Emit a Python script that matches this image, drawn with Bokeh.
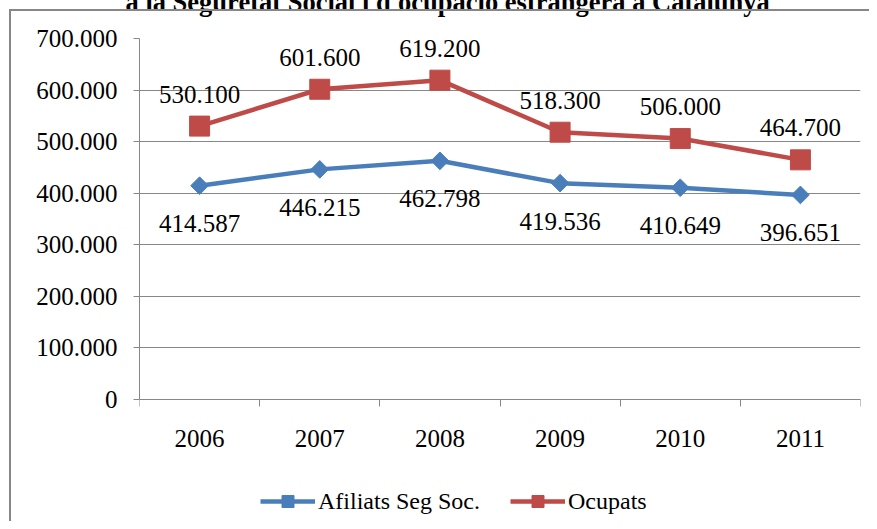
import math
from bokeh.plotting import figure
from bokeh.models import (FixedTicker, Range1d, Legend, LegendItem, ColumnDataSource,
                          InlineStyleSheet, LinearAxis)
from bokeh.core.properties import value
from bokeh.embed import file_html
from bokeh.resources import INLINE

# ---- data ----
years = ["2006", "2007", "2008", "2009", "2010", "2011"]
afiliats = [414587, 446215, 462798, 419536, 410649, 396651]
ocupats = [530100, 601600, 619200, 518300, 506000, 464700]
afiliats_labels = ["414.587", "446.215", "462.798", "419.536", "410.649", "396.651"]
ocupats_labels = ["530.100", "601.600", "619.200", "518.300", "506.000", "464.700"]
y_ticks = [0, 100000, 200000, 300000, 400000, 500000, 600000, 700000]
y_tick_labels = ["0", "100.000", "200.000", "300.000", "400.000", "500.000", "600.000", "700.000"]
series_names = ["Afiliats Seg Soc.", "Ocupats"]
title_text = "a la Seguretat Social i d'ocupació estrangera a Catalunya"

BLUE = "#4a7ebb"
RED = "#be4b48"
GRID = "#878787"
FONT = "Liberation Serif"

SHIFT = 40                      # figure is pulled up so the title is cut at the top
W, H = 869, 521 + SHIFT
ML, MR, MT = 139, 9, 38 + SHIFT
Y_TOP_PX, Y_ZERO_PX, BOTTOM_PX = 38, 399, 521   # plot area in picture pixels
YMAX = 700000
# the frame reaches the bottom of the canvas so the legend can sit inside it;
# extend the y range below 0 by the matching number of pixels
y_min = -(BOTTOM_PX - Y_ZERO_PX) * YMAX / (Y_ZERO_PX - Y_TOP_PX)

xc = [i + 0.5 for i in range(len(years))]
src = ColumnDataSource(dict(x=xc, afiliats=afiliats, ocupats=ocupats,
                            al=afiliats_labels, ol=ocupats_labels))

box_css = InlineStyleSheet(css=(
    ":host::after { content: ''; position: absolute; left: 9px; top: %dpx; "
    "right: 0; bottom: 0; border-left: 2px solid %s; border-top: 2px solid %s; "
    "pointer-events: none; }" % (10 + SHIFT - 1, GRID, GRID)))

p = figure(width=W, height=H, output_backend="svg", toolbar_location=None,
           x_range=Range1d(0, len(years)), y_range=Range1d(y_min, YMAX),
           x_axis_location=None,
           min_border_left=ML, min_border_right=MR, min_border_top=MT,
           min_border_bottom=0, margin=(-SHIFT, 0, 0, 0),
           stylesheets=[box_css])
p.outline_line_color = None
p.background_fill_color = "white"
p.border_fill_color = "white"

# title (only its lower part is visible)
p.title.text = title_text
p.title.align = "left"
p.title.offset = -14
p.title.standoff = 44
p.title.text_font = FONT
p.title.text_font_size = "26.5px"
p.title.text_font_style = "bold"
p.title.text_color = "black"

# x axis at y = 0: labels at centers, tick marks at category boundaries (minor ticks)
xaxis = LinearAxis(fixed_location=0,
                   ticker=FixedTicker(ticks=xc, minor_ticks=list(range(len(years) + 1))))
xaxis.major_label_overrides = {x: y for x, y in zip(xc, years)}
xaxis.major_tick_line_color = None
xaxis.major_tick_out = 0
xaxis.minor_tick_line_color = GRID
xaxis.minor_tick_in = 0
xaxis.minor_tick_out = 7
xaxis.axis_line_color = GRID
xaxis.major_label_standoff = 23
xaxis.major_label_text_font = FONT
xaxis.major_label_text_font_size = "25px"
xaxis.major_label_text_color = "black"
p.add_layout(xaxis, "below")
p.xgrid.grid_line_color = None

# y axis
p.yaxis.ticker = FixedTicker(ticks=y_ticks, minor_ticks=[])
p.yaxis.bounds = (0, YMAX)
p.yaxis.major_label_overrides = {t: l for t, l in zip(y_ticks, y_tick_labels)}
p.yaxis.major_tick_line_color = GRID
p.yaxis.major_tick_in = 0
p.yaxis.major_tick_out = 6
p.yaxis.minor_tick_line_color = None
p.yaxis.axis_line_color = GRID
p.yaxis.major_label_standoff = 16
p.yaxis.major_label_text_font = FONT
p.yaxis.major_label_text_font_size = "25px"
p.yaxis.major_label_text_color = "black"
p.ygrid.ticker = FixedTicker(ticks=y_ticks)
p.ygrid.grid_line_color = GRID
p.ygrid.grid_line_width = 1

# series
l_red = p.line("x", "ocupats", source=src, line_color=RED, line_width=4.5)
s_red = p.scatter("x", "ocupats", source=src, marker="square", size=20,
                  fill_color=RED, line_color=RED)
l_blue = p.line("x", "afiliats", source=src, line_color=BLUE, line_width=4.5)
s_blue = p.scatter("x", "afiliats", source=src, marker="square", angle=math.pi / 4,
                   size=12.5, fill_color=BLUE, line_color=BLUE)

# data labels
p.text("x", "ocupats", text="ol", source=src, text_align="center",
       text_baseline="middle", y_offset=-32, text_font=value(FONT),
       text_font_size="25px", text_color="black")
p.text("x", "afiliats", text="al", source=src, text_align="center",
       text_baseline="middle", y_offset=38, text_font=value(FONT),
       text_font_size="25px", text_color="black")

legend = Legend(items=[LegendItem(label=series_names[0], renderers=[l_blue, s_blue]),
                       LegendItem(label=series_names[1], renderers=[l_red, s_red])],
                location=(260 - ML, 5), orientation="horizontal",
                glyph_width=55, glyph_height=30, label_standoff=3, spacing=30,
                padding=0, margin=0, border_line_color=None,
                background_fill_alpha=0, label_text_font=FONT,
                label_text_font_size="24px", label_text_color="black",
                label_text_baseline="middle")
p.add_layout(legend)

open("out.html", "w").write(file_html(p, INLINE))
